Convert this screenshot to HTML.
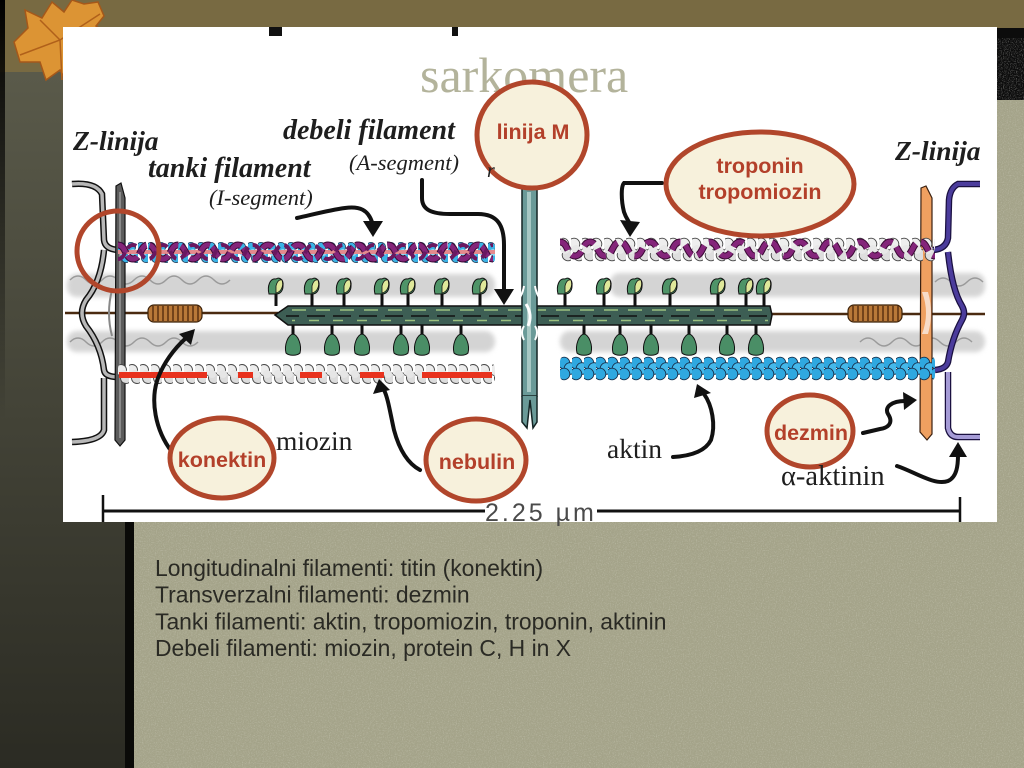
<!DOCTYPE html>
<html><head><meta charset="utf-8"><style>
html,body{margin:0;padding:0;width:1024px;height:768px;overflow:hidden;background:#a5a48a;}
svg{display:block}
</style></head><body>
<svg width="1024" height="768" viewBox="0 0 1024 768" xmlns="http://www.w3.org/2000/svg">
<defs>
 <linearGradient id="col" x1="0" y1="0" x2="0" y2="1"><stop offset="0" stop-color="#5a5a4a"/><stop offset="1" stop-color="#2b2b23"/></linearGradient>
 <linearGradient id="blk" x1="0" y1="0" x2="0" y2="1"><stop offset="0" stop-color="#000" stop-opacity="1"/><stop offset="1" stop-color="#000" stop-opacity="0"/></linearGradient>
 <filter id="nzw" x="0" y="0" width="100%" height="100%"><feTurbulence type="fractalNoise" baseFrequency="0.85" numOctaves="2" seed="4"/><feColorMatrix type="matrix" values="0 0 0 0 1  0 0 0 0 1  0 0 0 0 0.95  0 0 0 1.6 -0.75"/></filter>
 <filter id="nzd" x="0" y="0" width="100%" height="100%"><feTurbulence type="fractalNoise" baseFrequency="0.8" numOctaves="2" seed="9"/><feColorMatrix type="matrix" values="0 0 0 0 0.3  0 0 0 0 0.3  0 0 0 0 0.2  0 0 0 1.6 -0.75"/></filter>
 <filter id="bl" x="-5%" y="-50%" width="110%" height="200%"><feGaussianBlur stdDeviation="2.5"/></filter>
 <pattern id="pbBlue" patternUnits="userSpaceOnUse" x="118" y="242" width="10" height="21">
  <circle cx="3" cy="5" r="4.6" fill="#3bb3e6" stroke="#1c3550" stroke-width="0.8"/>
  <circle cx="8" cy="16" r="4.6" fill="#3bb3e6" stroke="#1c3550" stroke-width="0.8"/>
  <circle cx="5" cy="10.5" r="3.5" fill="#8fd4f2"/>
 </pattern>
 <pattern id="pbBlue2" patternUnits="userSpaceOnUse" x="560" y="356" width="12" height="25">
  <circle cx="4" cy="7" r="5.8" fill="#2fa8e0" stroke="#17304c" stroke-width="0.9"/>
  <circle cx="10" cy="12.5" r="5.8" fill="#45b8ea" stroke="#17304c" stroke-width="0.9"/>
  <circle cx="4" cy="18" r="5.8" fill="#2fa8e0" stroke="#17304c" stroke-width="0.9"/>
 </pattern>
 <pattern id="pbWhite" patternUnits="userSpaceOnUse" x="118" y="363" width="11" height="22">
  <circle cx="3" cy="7" r="5.5" fill="#ececec" stroke="#444" stroke-width="0.9"/>
  <circle cx="8" cy="15" r="5.5" fill="#dcdcdc" stroke="#444" stroke-width="0.9"/>
  <circle cx="6" cy="11" r="4" fill="#e6e6e6"/>
 </pattern>
 <pattern id="pbWhite2" patternUnits="userSpaceOnUse" x="560" y="237" width="11" height="25">
  <circle cx="3" cy="7" r="5.8" fill="#eeeeee" stroke="#444" stroke-width="0.9"/>
  <circle cx="8" cy="18" r="5.8" fill="#dedede" stroke="#444" stroke-width="0.9"/>
  <circle cx="5" cy="12.5" r="4.5" fill="#e8e8e8"/>
 </pattern>
 <g id="hu">
  <path d="M0,0 L0,-14" stroke="#111" stroke-width="3"/>
  <path d="M-7,-12 C-9,-20 -6,-28 0,-27 C3,-29 8,-27 7,-20 C7,-15 4,-12 0,-12 Z" fill="#4f9468" stroke="#111" stroke-width="1"/>
  <path d="M0,-13 C5,-14 8,-20 6,-26 C3,-27 1,-24 0,-20 Z" fill="#e0e89a" stroke="#111" stroke-width="0.8"/>
 </g>
 <g id="hd">
  <path d="M0,0 L0,10" stroke="#111" stroke-width="3"/>
  <path d="M-7,28 C-9,20 -5,10 0,9 C5,10 9,20 7,28 C4,31 -4,31 -7,28 Z" fill="#4a8e66" stroke="#111" stroke-width="1"/>
 </g>
</defs>

<!-- background -->
<rect x="0" y="0" width="1024" height="768" fill="#a5a48a"/>
<rect x="0" y="0" width="1024" height="768" filter="url(#nzw)" opacity="0.35"/>
<rect x="0" y="0" width="1024" height="768" filter="url(#nzd)" opacity="0.35"/>
<rect x="0" y="0" width="1024" height="28" fill="#786a42"/>
<rect x="0" y="0" width="64" height="73" fill="#786a42"/>
<rect x="0" y="72" width="125" height="696" fill="url(#col)"/>
<rect x="0" y="0" width="5" height="420" fill="url(#blk)"/>
<rect x="125" y="72" width="9" height="696" fill="#0a0a08"/>
<rect x="996" y="28" width="28" height="72" fill="#0c0c0c"/>
<rect x="996" y="38" width="28" height="62" filter="url(#nzw)" opacity="0.6"/>

<!-- leaf -->
<path d="M14,42 L28,28 L25,10 L42,18 L52,2 L64,12 L72,0 L84,4 L98,2 L104,16 L96,26 L110,36 L92,46 L78,58 L70,88 L60,70 L46,80 L40,62 L20,62 Z" fill="#dc9434" stroke="#a5581a" stroke-width="1.5"/>
<path d="M20,55 L60,40 L100,14 M60,40 L62,80 M60,40 L40,20" stroke="#b0601a" stroke-width="1.5" fill="none"/>

<!-- white panel -->
<rect x="63" y="27" width="934" height="495" fill="#ffffff"/>

<!-- hidden title remnants -->
<rect x="269" y="27" width="13" height="9" fill="#111"/>
<rect x="452" y="27" width="6" height="9" fill="#111"/>

<text x="420" y="92" font-family="Liberation Serif, serif" font-size="50" fill="#b3b39b">sarkomera</text>

<!-- gray bands -->
<g filter="url(#bl)" fill="#d4d4d4">
 <rect x="67" y="274" width="428" height="23" rx="10"/>
 <rect x="67" y="331" width="428" height="21" rx="10"/>
 <rect x="610" y="273" width="375" height="24" rx="10"/>
 <rect x="560" y="331" width="425" height="21" rx="10"/>
</g>
<g fill="none" stroke="#9a9a9a" stroke-width="1.5">
 <path d="M70,280 q8,-8 16,0 q8,8 16,0 q8,-8 16,0 q8,8 16,0 q8,-8 16,0 q8,8 16,0 q8,-8 16,0 q8,8 16,0 q8,-8 16,0 q8,8 16,0"/>
 <path d="M70,342 q8,-8 16,0 q8,8 16,0 q8,-8 16,0 q8,8 16,0 q8,-8 16,0 q8,8 16,0 q8,-8 16,0 q8,8 16,0"/>
 <path d="M935,282 q8,-8 16,0 q8,8 16,0 q8,-8 16,0"/>
 <path d="M860,342 q8,-8 16,0 q8,8 16,0 q8,-8 16,0 q8,8 16,0 q8,-8 16,0 q8,8 16,0 q8,-8 16,0"/>
</g>

<!-- titin lines & springs -->
<path d="M65,313 L278,313" stroke="#4a2a10" stroke-width="2.5"/>
<path d="M768,314 L985,314" stroke="#4a2a10" stroke-width="2.5"/>
<rect x="148" y="305" width="54" height="17" rx="6" fill="#b87838" stroke="#3a2008" stroke-width="1.2"/>
<path d="M153,306 v15 M158,306 v15 M163,306 v15 M168,306 v15 M173,306 v15 M178,306 v15 M183,306 v15 M188,306 v15 M193,306 v15 M198,306 v15" stroke="#5a3010" stroke-width="1.5"/>
<rect x="848" y="305" width="54" height="17" rx="6" fill="#b87838" stroke="#3a2008" stroke-width="1.2"/>
<path d="M853,306 v15 M858,306 v15 M863,306 v15 M868,306 v15 M873,306 v15 M878,306 v15 M883,306 v15 M888,306 v15 M893,306 v15 M898,306 v15" stroke="#5a3010" stroke-width="1.5"/>

<!-- left Z-line -->
<path d="M72,184 Q96,182 102,194 L104,240 Q105,249 118,250 M104,250 Q101,282 86,300 Q78,313 86,326 Q101,345 104,370 Q105,377 118,377 M104,378 L104,430 Q101,441 72,442" fill="none" stroke="#111" stroke-width="6.5"/>
<path d="M72,184 Q96,182 102,194 L104,240 Q105,249 118,250 M104,250 Q101,282 86,300 Q78,313 86,326 Q101,345 104,370 Q105,377 118,377 M104,378 L104,430 Q101,441 72,442" fill="none" stroke="#b8b8b8" stroke-width="3.5"/>
<path d="M112,290 Q106,313 112,336" fill="none" stroke="#888" stroke-width="2"/>
<path d="M116,186 L121,183 L125,198 L125,440 L120,446 L115,440 Z" fill="#5c5c5c" stroke="#111" stroke-width="1.2"/>
<path d="M120,192 L120,438" stroke="#9a9a9a" stroke-width="1.5"/>

<!-- right Z-line -->
<path d="M921,188 L926,186 L932,198 L932,434 L927,440 L920,432 Z" fill="#efa060" stroke="#3a2010" stroke-width="1.2"/>
<path d="M922,292 Q930,313 922,334 L928,334 Q934,313 928,292 Z" fill="#f8dcc8"/>
<path d="M980,184 L958,184 Q950,188 949,200 L948,238 Q946,249 933,250 M948,252 Q952,290 962,306 Q966,313 962,320 Q952,338 948,362 Q946,369 935,370 M948,372 L948,428 Q950,437 958,437 L980,437" fill="none" stroke="#1a1040" stroke-width="6.5"/>
<path d="M980,184 L958,184 Q950,188 949,200 L948,238 Q946,249 933,250 M948,252 Q952,290 962,306 Q966,313 962,320 Q952,338 948,362 Q946,369 935,370" fill="none" stroke="#4b3c9c" stroke-width="4"/>
<path d="M948,372 L948,428 Q950,437 958,437 L980,437" fill="none" stroke="#a59bd6" stroke-width="4"/>

<!-- thin filaments left -->
<rect x="118" y="242" width="377" height="21" rx="4" fill="url(#pbBlue)"/>
<rect x="118" y="250" width="377" height="4" fill="#e48a8e"/>
<path d="M118,245 c8,0 7,14 15,14 s7,-14 15,-14 s7,14 15,14 s7,-14 15,-14 s7,14 15,14 s7,-14 15,-14 s7,14 15,14 s7,-14 15,-14 s7,14 15,14 s7,-14 15,-14 s7,14 15,14 s7,-14 15,-14 s7,14 15,14 s7,-14 15,-14 s7,14 15,14 s7,-14 15,-14 s7,14 15,14 s7,-14 15,-14 s7,14 15,14 s7,-14 15,-14 s7,14 15,14 s7,-14 15,-14 s7,14 15,14 s7,-14 15,-14 s7,14 15,14" fill="none" stroke="#3a0a34" stroke-width="7" stroke-dasharray="12 3"/>
<path d="M118,245 c8,0 7,14 15,14 s7,-14 15,-14 s7,14 15,14 s7,-14 15,-14 s7,14 15,14 s7,-14 15,-14 s7,14 15,14 s7,-14 15,-14 s7,14 15,14 s7,-14 15,-14 s7,14 15,14 s7,-14 15,-14 s7,14 15,14 s7,-14 15,-14 s7,14 15,14 s7,-14 15,-14 s7,14 15,14 s7,-14 15,-14 s7,14 15,14 s7,-14 15,-14 s7,14 15,14 s7,-14 15,-14 s7,14 15,14 s7,-14 15,-14 s7,14 15,14" fill="none" stroke="#84257a" stroke-width="5" stroke-dasharray="12 3"/>
<path d="M118,259 c8,0 7,-14 15,-14 s7,14 15,14 s7,-14 15,-14 s7,14 15,14 s7,-14 15,-14 s7,14 15,14 s7,-14 15,-14 s7,14 15,14 s7,-14 15,-14 s7,14 15,14 s7,-14 15,-14 s7,14 15,14 s7,-14 15,-14 s7,14 15,14 s7,-14 15,-14 s7,14 15,14 s7,-14 15,-14 s7,14 15,14 s7,-14 15,-14 s7,14 15,14 s7,-14 15,-14 s7,14 15,14 s7,-14 15,-14 s7,14 15,14 s7,-14 15,-14" fill="none" stroke="#6a1860" stroke-width="4" stroke-dasharray="10 5"/>

<rect x="118" y="363" width="377" height="22" rx="5" fill="url(#pbWhite)"/>
<g fill="#e8321e">
 <rect x="119" y="372" width="88" height="6"/>
 <rect x="238" y="372" width="15" height="6"/>
 <rect x="300" y="372" width="22" height="6"/>
 <rect x="360" y="372" width="24" height="6"/>
 <rect x="422" y="372" width="70" height="6"/>
</g>

<!-- thin filaments right -->
<rect x="560" y="237" width="375" height="25" rx="5" fill="url(#pbWhite2)"/>
<path d="M560,242 c8,0 7,14 15,14 s7,-14 15,-14 s7,14 15,14 s7,-14 15,-14 s7,14 15,14 s7,-14 15,-14 s7,14 15,14 s7,-14 15,-14 s7,14 15,14 s7,-14 15,-14 s7,14 15,14 s7,-14 15,-14 s7,14 15,14 s7,-14 15,-14 s7,14 15,14 s7,-14 15,-14 s7,14 15,14 s7,-14 15,-14 s7,14 15,14 s7,-14 15,-14 s7,14 15,14 s7,-14 15,-14 s7,14 15,14 s7,-14 15,-14 s7,14 15,14" fill="none" stroke="#3a0a34" stroke-width="7" stroke-dasharray="12 6"/>
<path d="M560,242 c8,0 7,14 15,14 s7,-14 15,-14 s7,14 15,14 s7,-14 15,-14 s7,14 15,14 s7,-14 15,-14 s7,14 15,14 s7,-14 15,-14 s7,14 15,14 s7,-14 15,-14 s7,14 15,14 s7,-14 15,-14 s7,14 15,14 s7,-14 15,-14 s7,14 15,14 s7,-14 15,-14 s7,14 15,14 s7,-14 15,-14 s7,14 15,14 s7,-14 15,-14 s7,14 15,14 s7,-14 15,-14 s7,14 15,14 s7,-14 15,-14 s7,14 15,14" fill="none" stroke="#84257a" stroke-width="5" stroke-dasharray="12 6"/>
<rect x="560" y="356" width="375" height="25" rx="5" fill="url(#pbBlue2)"/>

<!-- thick filament -->
<path d="M275,315 L288,306 L770,306 L772,315 L770,325 L288,325 Z" fill="#3d5e54" stroke="#111" stroke-width="1.5"/>
<path d="M292,310 H768" stroke="#9cc07e" stroke-width="1.5" stroke-dasharray="14 10"/>
<path d="M286,316 H770" stroke="#111" stroke-width="1.5" stroke-dasharray="18 8" stroke-dashoffset="5"/>
<path d="M292,320.5 H768" stroke="#9cc07e" stroke-width="1.5" stroke-dasharray="10 14" stroke-dashoffset="7"/>

<!-- myosin heads -->
<use href="#hu" x="276" y="306"/><use href="#hu" x="312" y="306"/><use href="#hu" x="344" y="306"/><use href="#hu" x="382" y="306"/><use href="#hu" x="408" y="306"/><use href="#hu" x="442" y="306"/><use href="#hu" x="480" y="306"/>
<use href="#hu" x="565" y="306"/><use href="#hu" x="604" y="306"/><use href="#hu" x="635" y="306"/><use href="#hu" x="670" y="306"/><use href="#hu" x="718" y="306"/><use href="#hu" x="746" y="306"/><use href="#hu" x="764" y="306"/>
<use href="#hd" x="293" y="325"/><use href="#hd" x="332" y="325"/><use href="#hd" x="362" y="325"/><use href="#hd" x="401" y="325"/><use href="#hd" x="422" y="325"/><use href="#hd" x="461" y="325"/>
<use href="#hd" x="584" y="325"/><use href="#hd" x="620" y="325"/><use href="#hd" x="651" y="325"/><use href="#hd" x="689" y="325"/><use href="#hd" x="727" y="325"/><use href="#hd" x="756" y="325"/>

<!-- M line -->
<rect x="522" y="188" width="15" height="208" fill="#6a9a98" stroke="#142424" stroke-width="1.5"/>
<path d="M522,396 L522,422 L527,428 L530,400 L533,428 L537,422 L537,396" fill="#6a9a98" stroke="#142424" stroke-width="1.5"/>
<rect x="527" y="192" width="4" height="200" fill="#a8c8c4"/>
<path d="M514,304 Q522,298 524,286 M545,304 Q537,298 535,286 M524,326 Q520,332 524,340 M535,326 Q539,332 535,340" fill="none" stroke="#fff" stroke-width="2"/>
<path d="M526,304 Q533,315 528,326" fill="none" stroke="#fff" stroke-width="3"/>

<!-- arrows -->
<g fill="none" stroke="#111" stroke-width="4" stroke-linecap="round">
 <path d="M297,218 C315,214 330,210 345,208 C360,206 368,210 372,222"/>
 <path d="M422,180 L422,198 C422,210 432,214 450,214 L478,214 C498,214 504,226 504,245 L504,292"/>
 <path d="M662,183 L624,183 C621,186 621,200 624,212 C626,218 628,220 630,224"/>
 <path d="M172,452 C155,430 150,400 158,378 C165,360 175,348 186,338"/>
 <path d="M420,470 C405,462 398,445 394,430 C390,412 388,398 384,390"/>
 <path d="M673,457 C690,456 705,452 711,440 C716,425 712,405 704,394"/>
 <path d="M863,433 L880,429 C892,427 892,420 888,414 C884,407 892,401 905,401"/>
 <path d="M897,466 C915,472 935,486 948,481 C957,477 958,465 958,455"/>
</g>
<g fill="#111">
 <polygon points="363,221 383,221 373,237"/>
 <polygon points="494,289 514,289 504,305"/>
 <polygon points="620,220 640,222 630,237"/>
 <polygon points="179,334 191,345 195,329"/>
 <polygon points="373,394 390,390 379,379"/>
 <polygon points="694,398 711,393 697,384"/>
 <polygon points="903,392 904,410 917,400"/>
 <polygon points="949,457 967,457 958,442"/>
</g>

<!-- scale bar -->
<path d="M103,511 L485,511 M597,511 L960,511" stroke="#111" stroke-width="3"/>
<path d="M103,495 L103,522 M960,497 L960,522" stroke="#111" stroke-width="2.5"/>
<text x="485" y="521" font-family="Liberation Sans, sans-serif" font-size="25" letter-spacing="3" fill="#4a4a4a">2.25 µm</text>

<!-- circles -->
<g stroke="#b1462b" stroke-width="5">
 <ellipse cx="118" cy="251" rx="41" ry="40" fill="none"/>
 <ellipse cx="532" cy="135" rx="55" ry="53" fill="#f7f1dc"/>
 <ellipse cx="760" cy="184" rx="94" ry="52" fill="#f7f1dc"/>
 <ellipse cx="222" cy="458" rx="52" ry="40" fill="#f7f1dc"/>
 <ellipse cx="476" cy="460" rx="50" ry="41" fill="#f7f1dc"/>
 <ellipse cx="810" cy="431" rx="43" ry="36" fill="#f7f1dc"/>
</g>
<g font-family="Liberation Sans, sans-serif" font-weight="bold" font-size="21.5" fill="#b3402a" text-anchor="middle">
 <text x="533" y="139">linija M</text>
 <text x="760" y="173">troponin</text>
 <text x="760" y="199">tropomiozin</text>
 <text x="222" y="467">konektin</text>
 <text x="477" y="469">nebulin</text>
 <text x="811" y="440">dezmin</text>
</g>

<!-- labels -->
<g font-family="Liberation Serif, serif" fill="#1e1e1e">
 <text x="73" y="150" font-size="27.5" font-weight="bold" font-style="italic">Z-linija</text>
 <text x="283" y="139" font-size="28" font-weight="bold" font-style="italic">debeli filament</text>
 <text x="148" y="177" font-size="28" font-weight="bold" font-style="italic">tanki filament</text>
 <text x="349" y="170" font-size="22.5" font-style="italic">(A-segment)</text>
 <text x="209" y="205" font-size="22.5" font-style="italic">(I-segment)</text>
 <text x="895" y="160" font-size="27.5" font-weight="bold" font-style="italic">Z-linija</text>
 <text x="487" y="177" font-size="20" font-style="italic">r</text>
 <text x="276" y="450" font-size="27.5">miozin</text>
 <text x="607" y="458" font-size="27.5">aktin</text>
 <text x="781" y="485" font-size="28.5">α-aktinin</text>
</g>

<!-- bottom text -->
<g font-family="Liberation Sans, sans-serif" font-size="22.9" fill="#2a2a24">
 <text x="155" y="576">Longitudinalni filamenti: titin (konektin)</text>
 <text x="155" y="602.7">Transverzalni filamenti: dezmin</text>
 <text x="155" y="629.3">Tanki filamenti: aktin, tropomiozin, troponin, aktinin</text>
 <text x="155" y="656">Debeli filamenti: miozin, protein C, H in X</text>
</g>
</svg>
</body></html>
